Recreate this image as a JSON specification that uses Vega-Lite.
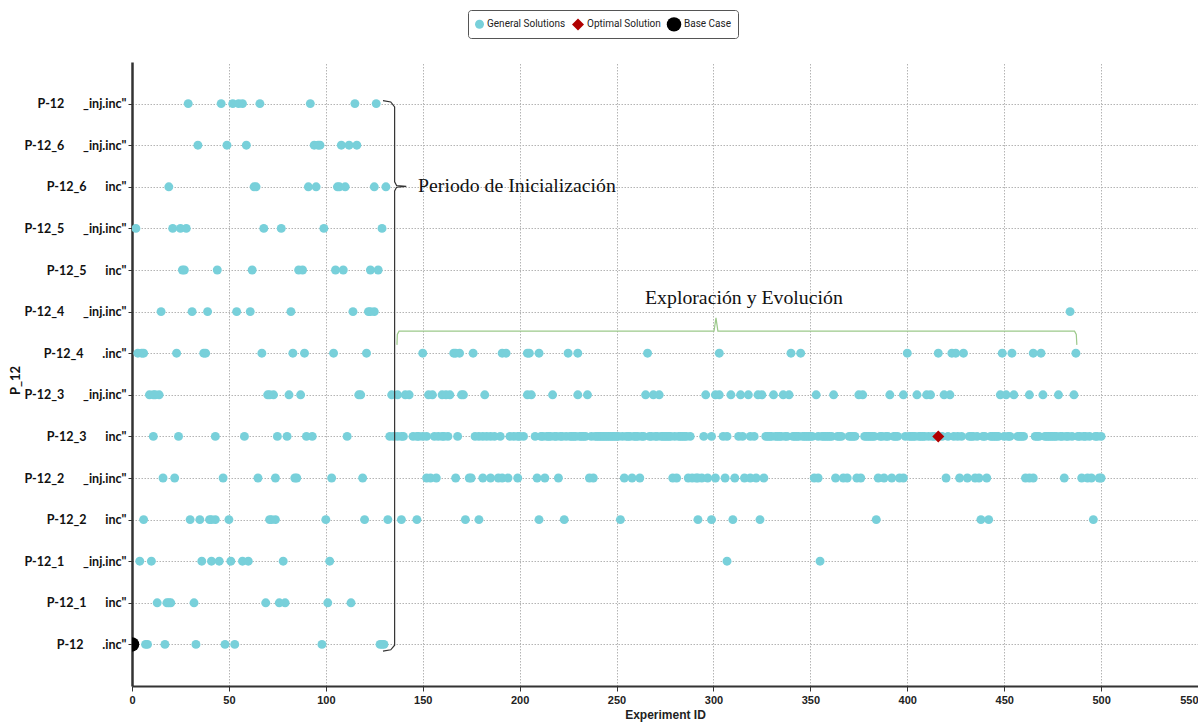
{
"$schema":"https://vega.github.io/schema/vega-lite/v6.json",
"width":1066,"height":624,
"autosize":{"type":"none"},
"padding":{"left":132,"top":62,"right":0,"bottom":37},
"background":"#ffffff",
"config":{"view":{"stroke":null},"font":"Liberation Sans"},
"datasets":{
"rows":[
{"r":1,"label":"P-12\u2003\u2003_inj.inc\""},
{"r":2,"label":"P-12_6\u2003\u2003_inj.inc\""},
{"r":3,"label":"P-12_6\u2003\u2003inc\""},
{"r":4,"label":"P-12_5\u2003\u2003_inj.inc\""},
{"r":5,"label":"P-12_5\u2003\u2003inc\""},
{"r":6,"label":"P-12_4\u2003\u2003_inj.inc\""},
{"r":7,"label":"P-12_4\u2003\u2003.inc\""},
{"r":8,"label":"P-12_3\u2003\u2003_inj.inc\""},
{"r":9,"label":"P-12_3\u2003\u2003inc\""},
{"r":10,"label":"P-12_2\u2003\u2003_inj.inc\""},
{"r":11,"label":"P-12_2\u2003\u2003inc\""},
{"r":12,"label":"P-12_1\u2003\u2003_inj.inc\""},
{"r":13,"label":"P-12_1\u2003\u2003inc\""},
{"r":14,"label":"P-12\u2003\u2003.inc\""}
],
"types":[{"t":"g","type":"General Solutions"},{"t":"o","type":"Optimal Solution"},{"t":"b","type":"Base Case"}],
"braces":[
{"g":"a","o":1,"x":129.5,"y":0.93},{"g":"a","o":2,"x":133.5,"y":0.96},{"g":"a","o":3,"x":135.5,"y":1.08},{"g":"a","o":4,"x":135.5,"y":2.88},{"g":"a","o":5,"x":136.5,"y":2.97},{"g":"a","o":6,"x":141.5,"y":2.99},{"g":"a","o":7,"x":136.5,"y":3.01},{"g":"a","o":8,"x":135.5,"y":3.1},{"g":"a","o":9,"x":135.5,"y":14.02},{"g":"a","o":10,"x":133.5,"y":14.13},{"g":"a","o":11,"x":129.5,"y":14.16},
{"g":"b","o":1,"x":136.7,"y":6.8},{"g":"b","o":2,"x":136.9,"y":6.55},{"g":"b","o":3,"x":137.8,"y":6.47},{"g":"b","o":4,"x":300.3,"y":6.47},{"g":"b","o":5,"x":301.3,"y":6.15},{"g":"b","o":6,"x":302.3,"y":6.47},{"g":"b","o":7,"x":486.3,"y":6.47},{"g":"b","o":8,"x":487.2,"y":6.55},{"g":"b","o":9,"x":487.5,"y":6.8}
],
"notes":[
{"x":147.6,"y":2.99,"txt":"Periodo de Inicialización"},
{"x":264.7,"y":5.67,"txt":"Exploración y Evolución"}
],
"pts":[
{"x":29,"r":1,"t":"g"},{"x":46,"r":1,"t":"g"},{"x":52,"r":1,"t":"g"},{"x":55,"r":1,"t":"g"},{"x":57,"r":1,"t":"g"},{"x":66,"r":1,"t":"g"},{"x":92,"r":1,"t":"g"},{"x":115,"r":1,"t":"g"},{"x":126,"r":1,"t":"g"},
{"x":34,"r":2,"t":"g"},{"x":49,"r":2,"t":"g"},{"x":59,"r":2,"t":"g"},{"x":94,"r":2,"t":"g"},{"x":96,"r":2,"t":"g"},{"x":97,"r":2,"t":"g"},{"x":108,"r":2,"t":"g"},{"x":112,"r":2,"t":"g"},{"x":116,"r":2,"t":"g"},
{"x":19,"r":3,"t":"g"},{"x":63,"r":3,"t":"g"},{"x":64,"r":3,"t":"g"},{"x":91,"r":3,"t":"g"},{"x":95,"r":3,"t":"g"},{"x":106,"r":3,"t":"g"},{"x":107,"r":3,"t":"g"},{"x":110,"r":3,"t":"g"},{"x":125,"r":3,"t":"g"},{"x":131,"r":3,"t":"g"},
{"x":2,"r":4,"t":"g"},{"x":21,"r":4,"t":"g"},{"x":25,"r":4,"t":"g"},{"x":28,"r":4,"t":"g"},{"x":68,"r":4,"t":"g"},{"x":77,"r":4,"t":"g"},{"x":99,"r":4,"t":"g"},{"x":129,"r":4,"t":"g"},
{"x":26,"r":5,"t":"g"},{"x":27,"r":5,"t":"g"},{"x":44,"r":5,"t":"g"},{"x":62,"r":5,"t":"g"},{"x":86,"r":5,"t":"g"},{"x":88,"r":5,"t":"g"},{"x":105,"r":5,"t":"g"},{"x":109,"r":5,"t":"g"},{"x":123,"r":5,"t":"g"},{"x":127,"r":5,"t":"g"},
{"x":15,"r":6,"t":"g"},{"x":31,"r":6,"t":"g"},{"x":39,"r":6,"t":"g"},{"x":54,"r":6,"t":"g"},{"x":61,"r":6,"t":"g"},{"x":82,"r":6,"t":"g"},{"x":114,"r":6,"t":"g"},{"x":122,"r":6,"t":"g"},{"x":123,"r":6,"t":"g"},{"x":125,"r":6,"t":"g"},{"x":484,"r":6,"t":"g"},
{"x":3,"r":7,"t":"g"},{"x":5,"r":7,"t":"g"},{"x":6,"r":7,"t":"g"},{"x":23,"r":7,"t":"g"},{"x":37,"r":7,"t":"g"},{"x":38,"r":7,"t":"g"},{"x":67,"r":7,"t":"g"},{"x":83,"r":7,"t":"g"},{"x":89,"r":7,"t":"g"},{"x":104,"r":7,"t":"g"},{"x":121,"r":7,"t":"g"},{"x":150,"r":7,"t":"g"},{"x":166,"r":7,"t":"g"},{"x":167,"r":7,"t":"g"},{"x":169,"r":7,"t":"g"},{"x":176,"r":7,"t":"g"},{"x":191,"r":7,"t":"g"},{"x":193,"r":7,"t":"g"},{"x":204,"r":7,"t":"g"},{"x":205,"r":7,"t":"g"},{"x":210,"r":7,"t":"g"},{"x":225,"r":7,"t":"g"},{"x":230,"r":7,"t":"g"},{"x":266,"r":7,"t":"g"},{"x":303,"r":7,"t":"g"},{"x":340,"r":7,"t":"g"},{"x":345,"r":7,"t":"g"},{"x":400,"r":7,"t":"g"},{"x":416,"r":7,"t":"g"},{"x":423,"r":7,"t":"g"},{"x":425,"r":7,"t":"g"},{"x":429,"r":7,"t":"g"},{"x":449,"r":7,"t":"g"},{"x":454,"r":7,"t":"g"},{"x":465,"r":7,"t":"g"},{"x":469,"r":7,"t":"g"},{"x":487,"r":7,"t":"g"},
{"x":9,"r":8,"t":"g"},{"x":11,"r":8,"t":"g"},{"x":12,"r":8,"t":"g"},{"x":14,"r":8,"t":"g"},{"x":70,"r":8,"t":"g"},{"x":71,"r":8,"t":"g"},{"x":73,"r":8,"t":"g"},{"x":81,"r":8,"t":"g"},{"x":87,"r":8,"t":"g"},{"x":117,"r":8,"t":"g"},{"x":118,"r":8,"t":"g"},{"x":134,"r":8,"t":"g"},{"x":137,"r":8,"t":"g"},{"x":141,"r":8,"t":"g"},{"x":143,"r":8,"t":"g"},{"x":153,"r":8,"t":"g"},{"x":155,"r":8,"t":"g"},{"x":160,"r":8,"t":"g"},{"x":162,"r":8,"t":"g"},{"x":164,"r":8,"t":"g"},{"x":170,"r":8,"t":"g"},{"x":171,"r":8,"t":"g"},{"x":182,"r":8,"t":"g"},{"x":204,"r":8,"t":"g"},{"x":206,"r":8,"t":"g"},{"x":217,"r":8,"t":"g"},{"x":230,"r":8,"t":"g"},{"x":235,"r":8,"t":"g"},{"x":265,"r":8,"t":"g"},{"x":269,"r":8,"t":"g"},{"x":272,"r":8,"t":"g"},{"x":296,"r":8,"t":"g"},{"x":301,"r":8,"t":"g"},{"x":303,"r":8,"t":"g"},{"x":309,"r":8,"t":"g"},{"x":314,"r":8,"t":"g"},{"x":318,"r":8,"t":"g"},{"x":323,"r":8,"t":"g"},{"x":325,"r":8,"t":"g"},{"x":331,"r":8,"t":"g"},{"x":336,"r":8,"t":"g"},{"x":339,"r":8,"t":"g"},{"x":353,"r":8,"t":"g"},{"x":362,"r":8,"t":"g"},{"x":375,"r":8,"t":"g"},{"x":377,"r":8,"t":"g"},{"x":391,"r":8,"t":"g"},{"x":398,"r":8,"t":"g"},{"x":405,"r":8,"t":"g"},{"x":410,"r":8,"t":"g"},{"x":412,"r":8,"t":"g"},{"x":419,"r":8,"t":"g"},{"x":422,"r":8,"t":"g"},{"x":448,"r":8,"t":"g"},{"x":451,"r":8,"t":"g"},{"x":455,"r":8,"t":"g"},{"x":463,"r":8,"t":"g"},{"x":470,"r":8,"t":"g"},{"x":478,"r":8,"t":"g"},{"x":486,"r":8,"t":"g"},
{"x":11,"r":9,"t":"g"},{"x":24,"r":9,"t":"g"},{"x":43,"r":9,"t":"g"},{"x":58,"r":9,"t":"g"},{"x":75,"r":9,"t":"g"},{"x":80,"r":9,"t":"g"},{"x":90,"r":9,"t":"g"},{"x":93,"r":9,"t":"g"},{"x":111,"r":9,"t":"g"},
{"x":133,"r":9,"t":"g"},{"x":135,"r":9,"t":"g"},{"x":137,"r":9,"t":"g"},{"x":139,"r":9,"t":"g"},{"x":140,"r":9,"t":"g"},{"x":145,"r":9,"t":"g"},{"x":147,"r":9,"t":"g"},{"x":148,"r":9,"t":"g"},{"x":150,"r":9,"t":"g"},{"x":152,"r":9,"t":"g"},{"x":156,"r":9,"t":"g"},{"x":158,"r":9,"t":"g"},{"x":160,"r":9,"t":"g"},{"x":161,"r":9,"t":"g"},{"x":163,"r":9,"t":"g"},{"x":168,"r":9,"t":"g"},{"x":177,"r":9,"t":"g"},{"x":179,"r":9,"t":"g"},{"x":181,"r":9,"t":"g"},{"x":183,"r":9,"t":"g"},{"x":185,"r":9,"t":"g"},{"x":187,"r":9,"t":"g"},{"x":190,"r":9,"t":"g"},{"x":195,"r":9,"t":"g"},{"x":197,"r":9,"t":"g"},{"x":199,"r":9,"t":"g"},{"x":200,"r":9,"t":"g"},{"x":202,"r":9,"t":"g"},{"x":208,"r":9,"t":"g"},
{"x":211,"r":9,"t":"g"},{"x":212,"r":9,"t":"g"},{"x":214,"r":9,"t":"g"},{"x":215,"r":9,"t":"g"},{"x":216,"r":9,"t":"g"},{"x":218,"r":9,"t":"g"},{"x":219,"r":9,"t":"g"},{"x":221,"r":9,"t":"g"},{"x":222,"r":9,"t":"g"},{"x":224,"r":9,"t":"g"},{"x":226,"r":9,"t":"g"},{"x":227,"r":9,"t":"g"},{"x":228,"r":9,"t":"g"},{"x":229,"r":9,"t":"g"},{"x":231,"r":9,"t":"g"},{"x":232,"r":9,"t":"g"},{"x":233,"r":9,"t":"g"},{"x":234,"r":9,"t":"g"},{"x":237,"r":9,"t":"g"},{"x":239,"r":9,"t":"g"},{"x":240,"r":9,"t":"g"},{"x":241,"r":9,"t":"g"},{"x":242,"r":9,"t":"g"},{"x":243,"r":9,"t":"g"},{"x":244,"r":9,"t":"g"},{"x":245,"r":9,"t":"g"},{"x":246,"r":9,"t":"g"},{"x":247,"r":9,"t":"g"},{"x":248,"r":9,"t":"g"},{"x":249,"r":9,"t":"g"},{"x":250,"r":9,"t":"g"},{"x":251,"r":9,"t":"g"},{"x":253,"r":9,"t":"g"},{"x":255,"r":9,"t":"g"},{"x":256,"r":9,"t":"g"},{"x":257,"r":9,"t":"g"},{"x":259,"r":9,"t":"g"},{"x":260,"r":9,"t":"g"},{"x":261,"r":9,"t":"g"},{"x":263,"r":9,"t":"g"},{"x":264,"r":9,"t":"g"},{"x":267,"r":9,"t":"g"},{"x":268,"r":9,"t":"g"},{"x":270,"r":9,"t":"g"},{"x":271,"r":9,"t":"g"},{"x":273,"r":9,"t":"g"},{"x":274,"r":9,"t":"g"},{"x":275,"r":9,"t":"g"},{"x":276,"r":9,"t":"g"},{"x":277,"r":9,"t":"g"},{"x":278,"r":9,"t":"g"},{"x":280,"r":9,"t":"g"},{"x":282,"r":9,"t":"g"},{"x":283,"r":9,"t":"g"},{"x":284,"r":9,"t":"g"},{"x":285,"r":9,"t":"g"},{"x":286,"r":9,"t":"g"},{"x":288,"r":9,"t":"g"},
{"x":295,"r":9,"t":"g"},{"x":299,"r":9,"t":"g"},{"x":305,"r":9,"t":"g"},{"x":307,"r":9,"t":"g"},{"x":313,"r":9,"t":"g"},{"x":315,"r":9,"t":"g"},{"x":319,"r":9,"t":"g"},{"x":321,"r":9,"t":"g"},
{"x":327,"r":9,"t":"g"},{"x":328,"r":9,"t":"g"},{"x":329,"r":9,"t":"g"},{"x":330,"r":9,"t":"g"},{"x":332,"r":9,"t":"g"},{"x":333,"r":9,"t":"g"},{"x":334,"r":9,"t":"g"},{"x":335,"r":9,"t":"g"},{"x":337,"r":9,"t":"g"},{"x":338,"r":9,"t":"g"},{"x":341,"r":9,"t":"g"},{"x":342,"r":9,"t":"g"},{"x":343,"r":9,"t":"g"},{"x":344,"r":9,"t":"g"},{"x":346,"r":9,"t":"g"},{"x":347,"r":9,"t":"g"},{"x":348,"r":9,"t":"g"},{"x":349,"r":9,"t":"g"},{"x":350,"r":9,"t":"g"},{"x":351,"r":9,"t":"g"},
{"x":354,"r":9,"t":"g"},{"x":356,"r":9,"t":"g"},{"x":357,"r":9,"t":"g"},{"x":358,"r":9,"t":"g"},{"x":359,"r":9,"t":"g"},{"x":360,"r":9,"t":"g"},{"x":361,"r":9,"t":"g"},{"x":364,"r":9,"t":"g"},{"x":365,"r":9,"t":"g"},{"x":366,"r":9,"t":"g"},
{"x":370,"r":9,"t":"g"},{"x":371,"r":9,"t":"g"},{"x":372,"r":9,"t":"g"},{"x":373,"r":9,"t":"g"},
{"x":378,"r":9,"t":"g"},{"x":379,"r":9,"t":"g"},{"x":380,"r":9,"t":"g"},{"x":381,"r":9,"t":"g"},{"x":382,"r":9,"t":"g"},{"x":383,"r":9,"t":"g"},{"x":386,"r":9,"t":"g"},{"x":387,"r":9,"t":"g"},{"x":389,"r":9,"t":"g"},{"x":390,"r":9,"t":"g"},{"x":393,"r":9,"t":"g"},{"x":394,"r":9,"t":"g"},{"x":395,"r":9,"t":"g"},
{"x":399,"r":9,"t":"g"},{"x":401,"r":9,"t":"g"},{"x":402,"r":9,"t":"g"},{"x":403,"r":9,"t":"g"},{"x":404,"r":9,"t":"g"},{"x":406,"r":9,"t":"g"},{"x":407,"r":9,"t":"g"},{"x":408,"r":9,"t":"g"},{"x":409,"r":9,"t":"g"},{"x":411,"r":9,"t":"g"},{"x":413,"r":9,"t":"g"},{"x":414,"r":9,"t":"g"},
{"x":418,"r":9,"t":"g"},{"x":421,"r":9,"t":"g"},{"x":424,"r":9,"t":"g"},{"x":426,"r":9,"t":"g"},{"x":428,"r":9,"t":"g"},
{"x":432,"r":9,"t":"g"},{"x":433,"r":9,"t":"g"},{"x":434,"r":9,"t":"g"},{"x":436,"r":9,"t":"g"},{"x":439,"r":9,"t":"g"},{"x":440,"r":9,"t":"g"},{"x":443,"r":9,"t":"g"},{"x":444,"r":9,"t":"g"},{"x":445,"r":9,"t":"g"},{"x":446,"r":9,"t":"g"},{"x":447,"r":9,"t":"g"},{"x":450,"r":9,"t":"g"},{"x":452,"r":9,"t":"g"},{"x":453,"r":9,"t":"g"},
{"x":457,"r":9,"t":"g"},{"x":458,"r":9,"t":"g"},{"x":459,"r":9,"t":"g"},{"x":460,"r":9,"t":"g"},
{"x":466,"r":9,"t":"g"},{"x":467,"r":9,"t":"g"},{"x":468,"r":9,"t":"g"},{"x":471,"r":9,"t":"g"},{"x":472,"r":9,"t":"g"},{"x":473,"r":9,"t":"g"},{"x":474,"r":9,"t":"g"},{"x":475,"r":9,"t":"g"},{"x":476,"r":9,"t":"g"},{"x":477,"r":9,"t":"g"},{"x":479,"r":9,"t":"g"},{"x":480,"r":9,"t":"g"},{"x":482,"r":9,"t":"g"},{"x":483,"r":9,"t":"g"},{"x":485,"r":9,"t":"g"},{"x":488,"r":9,"t":"g"},{"x":489,"r":9,"t":"g"},{"x":491,"r":9,"t":"g"},{"x":492,"r":9,"t":"g"},{"x":494,"r":9,"t":"g"},{"x":497,"r":9,"t":"g"},{"x":498,"r":9,"t":"g"},{"x":500,"r":9,"t":"g"},
{"x":16,"r":10,"t":"g"},{"x":22,"r":10,"t":"g"},{"x":47,"r":10,"t":"g"},{"x":65,"r":10,"t":"g"},{"x":74,"r":10,"t":"g"},{"x":84,"r":10,"t":"g"},{"x":85,"r":10,"t":"g"},{"x":103,"r":10,"t":"g"},{"x":119,"r":10,"t":"g"},{"x":152,"r":10,"t":"g"},{"x":154,"r":10,"t":"g"},{"x":157,"r":10,"t":"g"},{"x":167,"r":10,"t":"g"},{"x":174,"r":10,"t":"g"},{"x":175,"r":10,"t":"g"},{"x":181,"r":10,"t":"g"},{"x":185,"r":10,"t":"g"},{"x":189,"r":10,"t":"g"},{"x":191,"r":10,"t":"g"},{"x":194,"r":10,"t":"g"},{"x":199,"r":10,"t":"g"},{"x":209,"r":10,"t":"g"},{"x":213,"r":10,"t":"g"},{"x":220,"r":10,"t":"g"},{"x":236,"r":10,"t":"g"},{"x":238,"r":10,"t":"g"},{"x":254,"r":10,"t":"g"},{"x":258,"r":10,"t":"g"},{"x":262,"r":10,"t":"g"},{"x":279,"r":10,"t":"g"},{"x":281,"r":10,"t":"g"},{"x":287,"r":10,"t":"g"},{"x":289,"r":10,"t":"g"},{"x":291,"r":10,"t":"g"},{"x":292,"r":10,"t":"g"},{"x":294,"r":10,"t":"g"},{"x":297,"r":10,"t":"g"},{"x":301,"r":10,"t":"g"},{"x":306,"r":10,"t":"g"},{"x":311,"r":10,"t":"g"},{"x":316,"r":10,"t":"g"},{"x":319,"r":10,"t":"g"},{"x":322,"r":10,"t":"g"},{"x":326,"r":10,"t":"g"},{"x":352,"r":10,"t":"g"},{"x":354,"r":10,"t":"g"},{"x":363,"r":10,"t":"g"},{"x":367,"r":10,"t":"g"},{"x":369,"r":10,"t":"g"},{"x":374,"r":10,"t":"g"},{"x":376,"r":10,"t":"g"},{"x":385,"r":10,"t":"g"},{"x":388,"r":10,"t":"g"},{"x":392,"r":10,"t":"g"},{"x":396,"r":10,"t":"g"},{"x":398,"r":10,"t":"g"},{"x":420,"r":10,"t":"g"},{"x":427,"r":10,"t":"g"},{"x":431,"r":10,"t":"g"},{"x":435,"r":10,"t":"g"},{"x":437,"r":10,"t":"g"},{"x":441,"r":10,"t":"g"},{"x":461,"r":10,"t":"g"},{"x":463,"r":10,"t":"g"},{"x":465,"r":10,"t":"g"},{"x":481,"r":10,"t":"g"},{"x":490,"r":10,"t":"g"},{"x":493,"r":10,"t":"g"},{"x":495,"r":10,"t":"g"},{"x":499,"r":10,"t":"g"},{"x":500,"r":10,"t":"g"},
{"x":6,"r":11,"t":"g"},{"x":30,"r":11,"t":"g"},{"x":35,"r":11,"t":"g"},{"x":40,"r":11,"t":"g"},{"x":41,"r":11,"t":"g"},{"x":43,"r":11,"t":"g"},{"x":50,"r":11,"t":"g"},{"x":71,"r":11,"t":"g"},{"x":72,"r":11,"t":"g"},{"x":74,"r":11,"t":"g"},{"x":100,"r":11,"t":"g"},{"x":120,"r":11,"t":"g"},{"x":132,"r":11,"t":"g"},{"x":139,"r":11,"t":"g"},{"x":147,"r":11,"t":"g"},{"x":172,"r":11,"t":"g"},{"x":179,"r":11,"t":"g"},{"x":210,"r":11,"t":"g"},{"x":223,"r":11,"t":"g"},{"x":252,"r":11,"t":"g"},{"x":292,"r":11,"t":"g"},{"x":299,"r":11,"t":"g"},{"x":310,"r":11,"t":"g"},{"x":324,"r":11,"t":"g"},{"x":384,"r":11,"t":"g"},{"x":438,"r":11,"t":"g"},{"x":442,"r":11,"t":"g"},{"x":496,"r":11,"t":"g"},
{"x":4,"r":12,"t":"g"},{"x":10,"r":12,"t":"g"},{"x":36,"r":12,"t":"g"},{"x":41,"r":12,"t":"g"},{"x":45,"r":12,"t":"g"},{"x":51,"r":12,"t":"g"},{"x":57,"r":12,"t":"g"},{"x":60,"r":12,"t":"g"},{"x":78,"r":12,"t":"g"},{"x":102,"r":12,"t":"g"},{"x":307,"r":12,"t":"g"},{"x":355,"r":12,"t":"g"},
{"x":13,"r":13,"t":"g"},{"x":18,"r":13,"t":"g"},{"x":19,"r":13,"t":"g"},{"x":20,"r":13,"t":"g"},{"x":32,"r":13,"t":"g"},{"x":69,"r":13,"t":"g"},{"x":76,"r":13,"t":"g"},{"x":79,"r":13,"t":"g"},{"x":101,"r":13,"t":"g"},{"x":113,"r":13,"t":"g"},
{"x":7,"r":14,"t":"g"},{"x":8,"r":14,"t":"g"},{"x":17,"r":14,"t":"g"},{"x":33,"r":14,"t":"g"},{"x":48,"r":14,"t":"g"},{"x":53,"r":14,"t":"g"},{"x":98,"r":14,"t":"g"},{"x":128,"r":14,"t":"g"},{"x":129,"r":14,"t":"g"},{"x":130,"r":14,"t":"g"},
{"x":416,"r":9,"t":"o"},
{"x":0,"r":14,"t":"b"}
]
},
"resolve":{"scale":{"y":"independent"}},
"layer":[
{
"data":{"name":"pts"},
"transform":[
{"lookup":"r","from":{"data":{"name":"rows"},"key":"r","fields":["label"]}},
{"lookup":"t","from":{"data":{"name":"types"},"key":"t","fields":["type"]}}
],
"mark":{"type":"point","filled":true,"opacity":1,"clip":true,"strokeWidth":0},
"encoding":{
"x":{"field":"x","type":"quantitative","title":"Experiment ID","scale":{"domain":[0,550],"nice":false,"zero":false},
"axis":{"values":[0,50,100,150,200,250,300,350,400,450,500,550],"title":"Experiment ID","titleFont":"Liberation Sans","titleFontSize":12,"titleFontWeight":"bold","titleColor":"#222222","titlePadding":4,"labelFont":"Liberation Sans","labelFontSize":11,"labelFontWeight":"bold","labelColor":"#222222","labelPadding":3,"labelAlign":{"condition":{"test":"datum.value == 550","value":"right"},"value":"center"},"tickSize":5,"tickColor":"#333333","domainColor":"#333333","domainWidth":2,"grid":true,"gridColor":"#b4b4b4","gridDash":[1.5,1.5],"gridWidth":1}},
"y":{"field":"label","type":"nominal","sort":{"field":"r","op":"min","order":"ascending"},"scale":{"padding":1},
"axis":{"title":"P_12","titleFont":"Lato","titleFontSize":13,"titleFontWeight":"bold","titleColor":"#111111","titleAngle":270,"titleX":-117,"titleY":318,"titleAlign":"center","titleBaseline":"middle","labelFont":"Lato","labelFontSize":12.5,"labelFontWeight":"bold","labelColor":"#111111","labelPadding":2,"tickSize":4,"tickColor":"#333333","domainColor":"#333333","domainWidth":2.5,"grid":true,"gridColor":"#b4b4b4","gridDash":[1.5,1.5],"gridWidth":1}},
"color":{"field":"type","type":"nominal","scale":{"domain":["General Solutions","Optimal Solution","Base Case"],"range":["#78D0DA","#B00000","#000000"]},
"legend":{"orient":"none","legendX":336,"legendY":-52,"direction":"horizontal","title":null,"labelFont":"Roboto","labelFontSize":10,"labelColor":"#222222","strokeColor":"#555555","cornerRadius":3,"padding":6,"fillColor":"#ffffff","columnPadding":5,"labelOffset":2}},
"shape":{"field":"type","type":"nominal","scale":{"domain":["General Solutions","Optimal Solution","Base Case"],"range":["circle","diamond","circle"]}},
"size":{"field":"type","type":"nominal","scale":{"domain":["General Solutions","Optimal Solution","Base Case"],"range":[80,210,150]}}
}
},
{
"data":{"name":"braces"},
"mark":{"type":"line","strokeWidth":1.2},
"encoding":{
"x":{"field":"x","type":"quantitative","title":"Experiment ID","scale":{"domain":[0,550],"nice":false,"zero":false}},
"y":{"field":"y","type":"quantitative","scale":{"domain":[0,15],"reverse":true,"nice":false,"zero":false},"axis":null},
"detail":{"field":"g","type":"nominal"},
"order":{"field":"o","type":"quantitative"},
"stroke":{"field":"g","type":"nominal","scale":{"domain":["a","b"],"range":["#333333","#9CC98A"]},"legend":null}
}
},
{
"data":{"name":"notes"},
"mark":{"type":"text","font":"Liberation Serif","fontSize":19.8,"align":"left","baseline":"middle","color":"#111111"},
"encoding":{
"x":{"field":"x","type":"quantitative","title":"Experiment ID","scale":{"domain":[0,550],"nice":false,"zero":false}},
"y":{"field":"y","type":"quantitative","scale":{"domain":[0,15],"reverse":true,"nice":false,"zero":false},"axis":null},
"text":{"field":"txt","type":"nominal"}
}
}
]
}
